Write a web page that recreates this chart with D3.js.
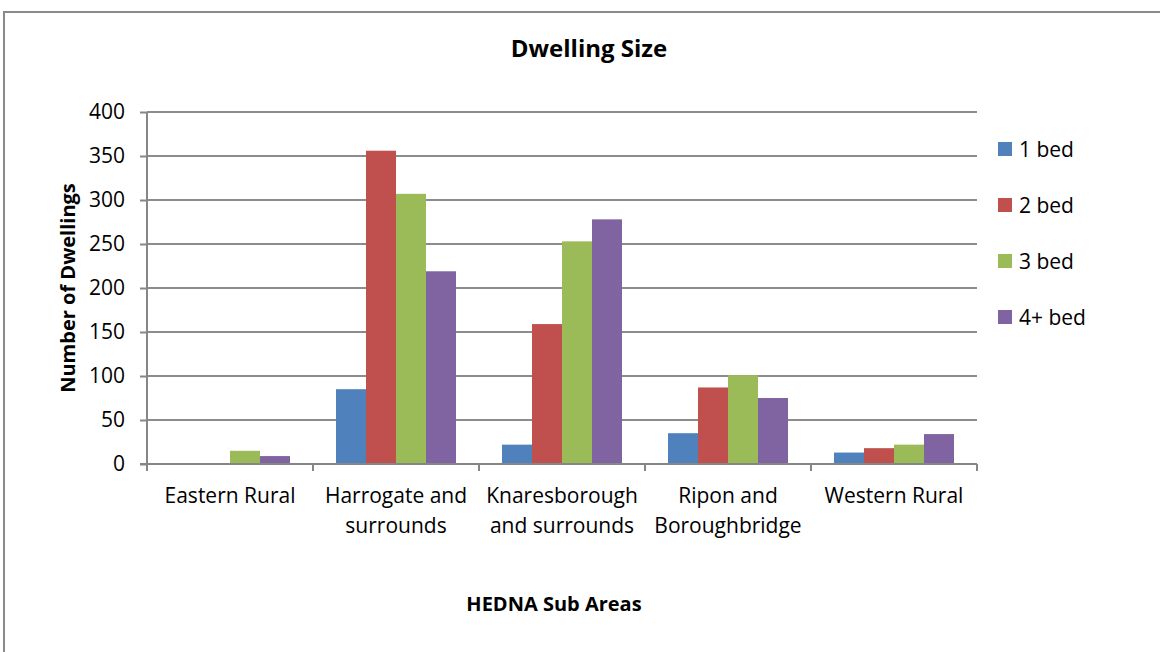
<!DOCTYPE html>
<html>
<head>
<meta charset="utf-8">
<script src="https://cdn.jsdelivr.net/npm/d3@7"></script>
<style>
  html, body { margin: 0; padding: 0; background: #fff; }
  svg text { font-family: "Open Sans", "Noto Sans", sans-serif; fill: #000; }
</style>
</head>
<body>
<svg id="chart" width="1160" height="652"></svg>
<script>
// Sub areas along the x axis (line breaks marked with \n)
const areas = [
  "Eastern Rural",
  "Harrogate and\nsurrounds",
  "Knaresborough\nand surrounds",
  "Ripon and\nBoroughbridge",
  "Western Rural"
];
const seriesNames = ["1 bed", "2 bed", "3 bed", "4+ bed"];
const seriesColors = ["#4F81BD", "#C0504D", "#9BBB59", "#8064A2"];

// Dwellings per size band, one array per band, ordered as the areas above
const oneBed   = [0, 85, 22, 35, 13];
const twoBed   = [0, 356, 159, 87, 18];
const threeBed = [15, 307, 253, 101, 22];
const fourBed  = [9, 219, 278, 75, 34];
const yTicks = [0, 50, 100, 150, 200, 250, 300, 350, 400];

const seriesValues = [oneBed, twoBed, threeBed, fourBed];

const svg = d3.select("#chart");

// Outer chart frame
svg.append("rect")
  .attr("x", 4).attr("y", 12)
  .attr("width", 1170).attr("height", 660)
  .attr("fill", "none").attr("stroke", "#8a8a8a").attr("stroke-width", 2);

const plot = { left: 147, right: 977, top: 112, bottom: 464 };

const x0 = d3.scaleBand()
  .domain(areas)
  .range([plot.left, plot.right])
  .paddingInner(46 / 166)
  .paddingOuter(23 / 166);

const x1 = d3.scaleBand()
  .domain(seriesNames)
  .range([0, x0.bandwidth()]);

const y = d3.scaleLinear().domain([0, 400]).range([plot.bottom, plot.top]);

// Horizontal gridlines
svg.append("g")
  .selectAll("line")
  .data(yTicks.filter(t => t > 0))
  .join("line")
  .attr("x1", plot.left).attr("x2", plot.right)
  .attr("y1", d => y(d)).attr("y2", d => y(d))
  .attr("stroke", "#8c8c8c").attr("stroke-width", 2);

// Bars
const groups = svg.append("g")
  .selectAll("g")
  .data(areas)
  .join("g")
  .attr("transform", d => `translate(${x0(d)},0)`);

groups.selectAll("rect")
  .data((d, i) => seriesNames.map((s, j) => ({ s, v: seriesValues[j][i], c: seriesColors[j] })))
  .join("rect")
  .attr("x", d => x1(d.s))
  .attr("width", x1.bandwidth())
  .attr("y", d => y(d.v))
  .attr("height", d => y(0) - y(d.v))
  .attr("fill", d => d.c);

// Y axis
const yAxis = svg.append("g")
  .attr("transform", `translate(${plot.left},0)`)
  .call(d3.axisLeft(y).tickValues(yTicks).tickSize(7).tickPadding(15));
yAxis.selectAll("path, line").attr("stroke", "#868686").attr("stroke-width", 2);
yAxis.select(".domain").attr("d", `M0,${plot.top}V${plot.bottom}`);
yAxis.selectAll("text").attr("font-size", 21).attr("font-family", "Open Sans").attr("fill", "#000");

// X axis with category boundary ticks
const xAxisG = svg.append("g");
xAxisG.append("line")
  .attr("x1", plot.left - 7).attr("x2", plot.right)
  .attr("y1", plot.bottom).attr("y2", plot.bottom)
  .attr("stroke", "#868686").attr("stroke-width", 2);
const step = x0.step();
xAxisG.selectAll("line.tick")
  .data(d3.range(areas.length + 1))
  .join("line")
  .attr("class", "tick")
  .attr("x1", i => plot.left + i * step)
  .attr("x2", i => plot.left + i * step)
  .attr("y1", plot.bottom).attr("y2", plot.bottom + 7)
  .attr("stroke", "#868686").attr("stroke-width", 2);

// Category labels
const catLabels = svg.append("g")
  .selectAll("text")
  .data(areas)
  .join("text")
  .attr("x", d => x0(d) + x0.bandwidth() / 2)
  .attr("y", 503)
  .attr("text-anchor", "middle")
  .attr("font-size", 21);
catLabels.each(function(d) {
  const t = d3.select(this);
  d.split("\n").forEach((line, i) => {
    t.append("tspan")
      .attr("x", x0(d) + x0.bandwidth() / 2)
      .attr("dy", i === 0 ? 0 : 30)
      .text(line);
  });
});

// Title
svg.append("text")
  .attr("x", 589).attr("y", 57)
  .attr("text-anchor", "middle")
  .attr("font-size", 24).attr("font-weight", "bold")
  .text("Dwelling Size");

// Axis titles
svg.append("text")
  .attr("transform", "translate(75,288) rotate(-90)")
  .attr("text-anchor", "middle")
  .attr("font-size", 20).attr("font-weight", "bold")
  .text("Number of Dwellings");

svg.append("text")
  .attr("x", 554).attr("y", 611)
  .attr("text-anchor", "middle")
  .attr("font-size", 20).attr("font-weight", "bold")
  .text("HEDNA Sub Areas");

// Legend
const legend = svg.append("g")
  .selectAll("g")
  .data(seriesNames)
  .join("g")
  .attr("transform", (d, i) => `translate(998,${149 + i * 56})`);
legend.append("rect")
  .attr("x", 0).attr("y", -7)
  .attr("width", 14).attr("height", 14)
  .attr("fill", (d, i) => seriesColors[i]);
legend.append("text")
  .attr("x", 21).attr("y", 8)
  .attr("font-size", 21)
  .text(d => d);
</script>
</body>
</html>
